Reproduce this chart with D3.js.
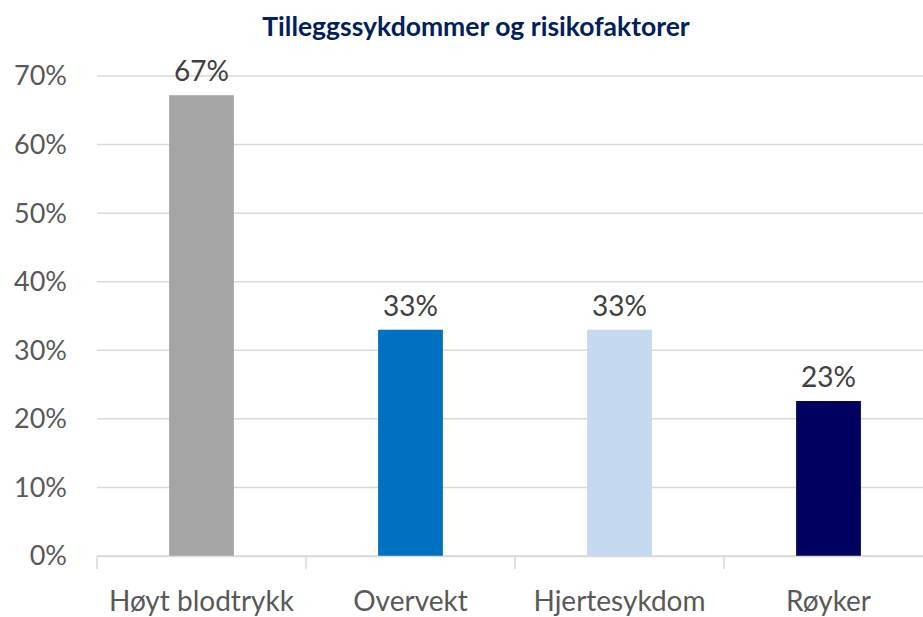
<!DOCTYPE html>
<html>
<head>
<meta charset="utf-8">
<script src="https://cdn.jsdelivr.net/npm/d3@7"></script>
<style>
  body { margin: 0; background: #fff; }
  svg text { font-family: Lato, "Open Sans", sans-serif; }
</style>
</head>
<body>
<svg id="chart"></svg>
<script>
// chart data
const categories = ["Høyt blodtrykk", "Overvekt", "Hjertesykdom", "Røyker"];
const values = [67.2, 33.0, 33.0, 22.6];
const valueLabels = ["67%", "33%", "33%", "23%"];
const barColors = ["#A5A5A5", "#0070C0", "#C5D9F0", "#00005E"];
const yTicks = [0, 10, 20, 30, 40, 50, 60, 70];

const width = 923, height = 617;
const margin = {top: 76, right: -10, bottom: 60, left: 97};

const svg = d3.select('#chart')
    .attr('width', width)
    .attr('height', height);

const innerW = width - margin.left - margin.right;
const innerH = height - margin.top - margin.bottom - 1;

const chart = svg.append('g')
    .attr('transform', `translate(${margin.left},${margin.top})`);

const xScale = d3.scaleBand()
    .domain(categories)
    .range([0, innerW]);

const xBar = d3.scaleBand()
    .domain(categories)
    .range([0, innerW])
    .paddingInner(0.69)
    .paddingOuter(0.345);

const yScale = d3.scaleLinear()
    .domain([0, 70])
    .range([innerH, 0]);

// title
svg.append('text')
    .attr('x', 476)
    .attr('y', 36)
    .attr('text-anchor', 'middle')
    .style('font-size', '26.5px')
    .style('font-weight', 'bold')
    .style('fill', '#002060')
    .text('Tilleggssykdommer og risikofaktorer');

// gridlines
chart.selectAll('.grid')
    .data(yTicks)
    .join('line')
    .attr('class', 'grid')
    .attr('x1', 0)
    .attr('x2', innerW)
    .attr('y1', d => yScale(d))
    .attr('y2', d => yScale(d))
    .attr('stroke', '#D9D9D9')
    .attr('stroke-width', 1.5);

// y axis labels
chart.selectAll('.ylab')
    .data(yTicks)
    .join('text')
    .attr('class', 'ylab')
    .attr('x', -30)
    .attr('y', d => yScale(d))
    .attr('dy', '0.35em')
    .attr('text-anchor', 'end')
    .style('font-size', '27px')
    .style('fill', '#595959')
    .text(d => d + '%');

// bars
chart.selectAll('.bar')
    .data(values)
    .join('rect')
    .attr('class', 'bar')
    .attr('x', (d, i) => xBar(categories[i]))
    .attr('width', xBar.bandwidth())
    .attr('y', d => yScale(d))
    .attr('height', d => yScale(0) - yScale(d))
    .attr('fill', (d, i) => barColors[i]);

// value labels
chart.selectAll('.vlab')
    .data(values)
    .join('text')
    .attr('class', 'vlab')
    .attr('x', (d, i) => xBar(categories[i]) + xBar.bandwidth() / 2)
    .attr('y', d => yScale(d) - 14)
    .attr('text-anchor', 'middle')
    .style('font-size', '28px')
    .style('fill', '#404040')
    .text((d, i) => valueLabels[i]);

// x axis
const xAxis = d3.axisBottom(xScale)
    .tickSize(0)
    .tickPadding(35);

const xAxisG = chart.append('g')
    .attr('transform', `translate(0,${innerH})`)
    .call(xAxis);

xAxisG.select('.domain')
    .attr('stroke', '#D9D9D9')
    .attr('stroke-width', 1.5);

xAxisG.selectAll('text')
    .style('font-size', '28px')
    .style('font-family', 'Lato, "Open Sans", sans-serif')
    .style('fill', '#595959');

// category boundary ticks
xAxisG.selectAll('.sep')
    .data(categories)
    .join('line')
    .attr('class', 'sep')
    .attr('x1', d => xScale(d))
    .attr('x2', d => xScale(d))
    .attr('y1', 0)
    .attr('y2', 13)
    .attr('stroke', '#D9D9D9')
    .attr('stroke-width', 1.5);
</script>
</body>
</html>
